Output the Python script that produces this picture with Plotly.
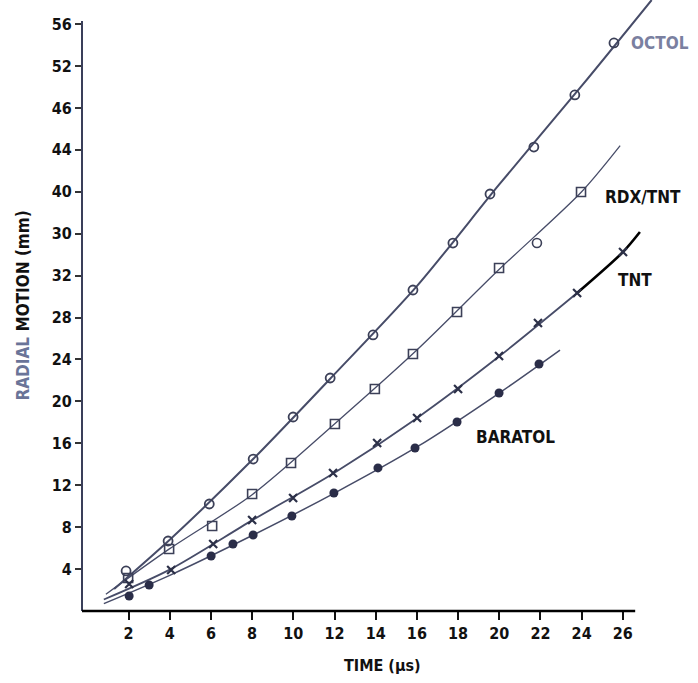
import plotly.graph_objects as go

# ---- data ----
octol_t = [1.88, 3.92, 5.92, 8.05, 9.99, 11.79, 13.87, 15.81, 17.75, 19.55, 21.68, 23.67, 25.57]
octol_r = [3.82, 6.68, 10.21, 14.50, 18.51, 22.23, 26.34, 30.63, 35.11, 39.79, 44.27, 49.24, 54.20]
octol_fit_t = [1.3, 4, 8, 12, 16, 20, 24, 27.4]
octol_fit_r = [2.1, 6.8, 14.4, 22.6, 31.0, 40.7, 50.1, 58.3]

rdx_t = [1.98, 3.97, 6.06, 8.00, 9.89, 12.02, 13.96, 15.81, 17.95, 19.99, 23.97]
rdx_r = [3.15, 5.92, 8.11, 11.16, 14.12, 17.84, 21.18, 24.52, 28.53, 32.73, 39.98]
rdx_odd_t = [21.83]
rdx_odd_r = [35.11]
rdx_fit_t = [0.9, 4, 8, 12, 16, 20, 24, 25.87]
rdx_fit_r = [1.6, 5.95, 11.1, 17.85, 24.9, 32.6, 40.0, 44.4]

tnt_t = [2.03, 4.07, 6.11, 8.00, 9.99, 11.93, 14.07, 16.01, 18.00, 19.99, 21.88, 23.78, 26.01]
tnt_r = [2.58, 3.91, 6.39, 8.68, 10.78, 13.17, 16.03, 18.42, 21.18, 24.33, 27.48, 30.34, 34.26]
tnt_fit_t = [0.8, 4, 8, 12, 16, 20, 23.78]
tnt_fit_r = [1.1, 3.95, 8.65, 13.2, 18.4, 24.3, 30.34]
tnt_bold_t = [23.78, 26.01, 26.83]
tnt_bold_r = [30.34, 34.26, 36.16]

bar_t = [2.03, 3.00, 6.01, 7.07, 8.05, 9.93, 11.97, 14.11, 15.91, 17.95, 19.99, 21.93]
bar_r = [1.43, 2.48, 5.25, 6.39, 7.25, 9.06, 11.26, 13.65, 15.55, 18.03, 20.80, 23.57]
bar_fit_t = [0.8, 4, 8, 12, 16, 20, 22.95]
bar_fit_r = [0.7, 3.4, 7.2, 11.25, 15.65, 20.8, 24.9]

x_ticks = [2, 4, 6, 8, 10, 12, 14, 16, 18, 20, 22, 24, 26]
y_ticks = [4, 8, 12, 16, 20, 24, 28, 32, 36, 40, 44, 48, 52, 56]
y_tick_text = ["4", "8", "12", "16", "20", "24", "28", "32", "30", "40", "44", "46", "52", "56"]

labels = ["OCTOL", "RDX/TNT", "TNT", "BARATOL"]
label_t = [27.8, 27.0, 26.6, 20.8]
label_r = [54.2, 39.5, 31.6, 16.6]
label_col = ["#7a80a0", "#111111", "#111111", "#111111"]

LINE = "#474c68"
FONT = "DejaVu Sans Condensed, Liberation Sans Narrow, Roboto Condensed, DejaVu Sans"

fig = go.Figure()

def fit(t, r, w, col=LINE):
    fig.add_trace(go.Scatter(x=t, y=r, mode="lines", line=dict(color=col, width=w, shape="spline", smoothing=0.8),
                             hoverinfo="skip", showlegend=False))

fit(octol_fit_t, octol_fit_r, 2.0)
fit(rdx_fit_t, rdx_fit_r, 1.3)
fit(tnt_fit_t, tnt_fit_r, 1.8)
fit(tnt_bold_t, tnt_bold_r, 2.6, "#000000")
fit(bar_fit_t, bar_fit_r, 1.5)

fig.add_trace(go.Scatter(x=octol_t, y=octol_r, mode="markers", showlegend=False,
                         marker=dict(symbol="circle-open", size=9, color="#3c4058", line=dict(width=1.8))))
fig.add_trace(go.Scatter(x=rdx_t, y=rdx_r, mode="markers", showlegend=False,
                         marker=dict(symbol="square-open", size=9, color="#3c4058", line=dict(width=1.6))))
fig.add_trace(go.Scatter(x=rdx_odd_t, y=rdx_odd_r, mode="markers", showlegend=False,
                         marker=dict(symbol="circle-open", size=9, color="#3c4058", line=dict(width=1.6))))
fig.add_trace(go.Scatter(x=tnt_t, y=tnt_r, mode="markers", showlegend=False,
                         marker=dict(symbol="x-thin", size=8, color="#2c3048", line=dict(width=2.2, color="#2c3048"))))
fig.add_trace(go.Scatter(x=bar_t, y=bar_r, mode="markers", showlegend=False,
                         marker=dict(symbol="circle", size=9, color="#2a2d48", line=dict(width=0))))

for txt, t, r, c in zip(labels, label_t, label_r, label_col):
    fig.add_annotation(x=t, y=r, text=txt, showarrow=False, xanchor="center", yanchor="middle",
                       font=dict(family=FONT, size=17, color=c, weight="bold"))

# axis lines
fig.add_shape(type="line", xref="paper", yref="y", x0=0, x1=0, y0=0, y1=56.3,
              line=dict(color="#3a3f5a", width=2))
fig.add_shape(type="line", xref="x", yref="paper", x0=-0.26, x1=26.6, y0=0, y1=0,
              line=dict(color="#000000", width=2.5))

# axis titles
fig.add_annotation(xref="paper", yref="paper", x=(22 - 82) / 616, y=0.5, textangle=-90,
                   text="<span style='color:#6a7498'>RADIAL</span> MOTION (mm)", showarrow=False,
                   xanchor="center", yanchor="middle",
                   font=dict(family=FONT, size=17, color="#111111", weight="bold"))
fig.add_annotation(xref="paper", yref="paper", x=(382 - 82) / 616, y=-(665 - 611) / 611,
                   text="TIME (µs)", showarrow=False, xanchor="center", yanchor="middle",
                   font=dict(family=FONT, size=16, color="#111111", weight="bold"))

fig.update_layout(
    width=698, height=683,
    margin=dict(l=82, r=0, t=0, b=72),
    paper_bgcolor="white", plot_bgcolor="white",
    showlegend=False,
    xaxis=dict(range=[-0.26, 29.65], tickvals=x_ticks, ticktext=[str(v) for v in x_ticks],
               showgrid=False, zeroline=False, showline=False, ticks="outside", ticklen=8,
               tickwidth=2, tickcolor="#111111",
               tickfont=dict(family=FONT, size=16, color="#111111", weight="bold")),
    yaxis=dict(range=[0, 58.3], tickvals=y_ticks, ticktext=y_tick_text,
               showgrid=False, zeroline=False, showline=False, ticks="outside", ticklen=6,
               tickwidth=1.5, tickcolor="#333333",
               tickfont=dict(family=FONT, size=16, color="#111111", weight="bold")),
)

fig.write_html("out.html")
